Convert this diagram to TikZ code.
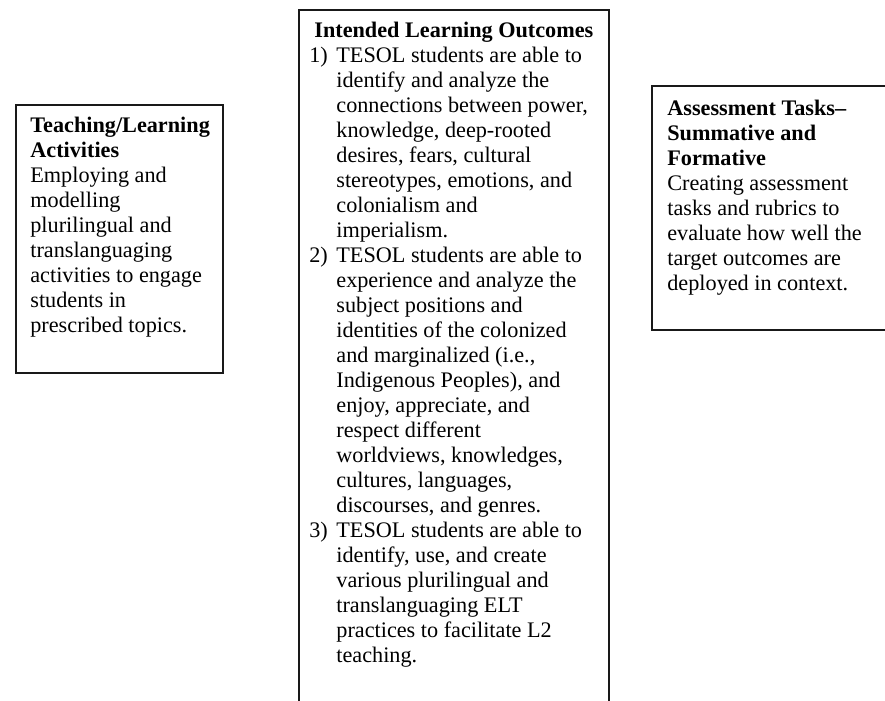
\documentclass[tikz,border=0pt]{standalone}
\usepackage{fontspec}
\setmainfont{Liberation Serif}

\newlength\numwd
\setlength\numwd{14.6pt}
\newcommand\itemno[1]{\makebox[\numwd][l]{#1}}
\newcommand\itemrest{\hspace*{\numwd}}

\tikzset{
  frame/.style={draw=black!90, line width=0.8pt},
  boxtext/.style={anchor=north west, inner sep=0pt, align=left}
}

\begin{document}
\begin{tikzpicture}[x=0.54pt,y=-0.54pt,font=\fontsize{12}{13.5}\selectfont]

	\useasboundingbox (0,0) rectangle (885,701);
	\clip (0,0) rectangle (885,701);

	% the three boxes
	\draw[frame] (16,105) rectangle (223,373);
	\draw[frame] (299,10) rectangle (609,730);
	\draw[frame] (652,86) rectangle (900,330);

	\node[boxtext] (TLA) at (30,117) {\textbf{Teaching/Learning}\\
		\textbf{Activities}\\
		Employing and\\
		modelling\\
		plurilingual and\\
		translanguaging\\
		activities to engage\\
		students in\\
		prescribed topics.};

	\node[boxtext] (ILO) at (309,22) {\hspace*{2.7pt}\textbf{Intended Learning Outcomes}\\
		\itemno{1)}TESOL students are able to\\
		\itemrest identify and analyze the\\
		\itemrest connections between power,\\
		\itemrest knowledge, deep-rooted\\
		\itemrest desires, fears, cultural\\
		\itemrest stereotypes, emotions, and\\
		\itemrest colonialism and\\
		\itemrest imperialism.\\
		\itemno{2)}TESOL students are able to\\
		\itemrest experience and analyze the\\
		\itemrest subject positions and\\
		\itemrest identities of the colonized\\
		\itemrest and marginalized (i.e.,\\
		\itemrest Indigenous Peoples), and\\
		\itemrest enjoy, appreciate, and\\
		\itemrest respect different\\
		\itemrest worldviews, knowledges,\\
		\itemrest cultures, languages,\\
		\itemrest discourses, and genres.\\
		\itemno{3)}TESOL students are able to\\
		\itemrest identify, use, and create\\
		\itemrest various plurilingual and\\
		\itemrest translanguaging ELT\\
		\itemrest practices to facilitate L2\\
		\itemrest teaching.};

	\node[boxtext] (AT) at (667,100) {\textbf{Assessment Tasks--}\\
		\textbf{Summative and}\\
		\textbf{Formative}\\
		Creating assessment\\
		tasks and rubrics to\\
		evaluate how well the\\
		target outcomes are\\
		deployed in context.};

\end{tikzpicture}
\end{document}
